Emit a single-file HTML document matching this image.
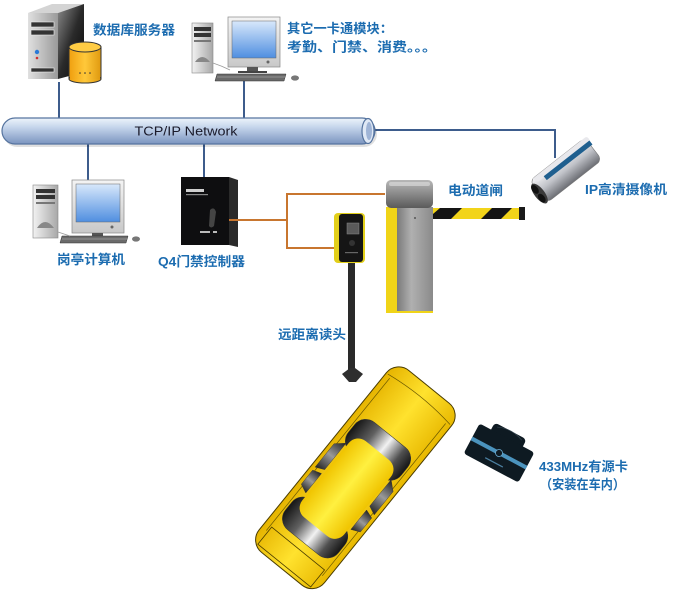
<!DOCTYPE html>
<html><head><meta charset="utf-8"><style>
html,body{margin:0;padding:0;background:#fff;}
svg{display:block;}
.lb{font-family:"Liberation Sans","Noto Sans CJK SC",sans-serif;font-weight:bold;font-size:13px;fill:#1c6cb0;}
.net{font-family:"Liberation Sans","DejaVu Sans",sans-serif;font-size:13px;fill:#1a1a2a;}
</style></head><body>
<svg width="692" height="592" viewBox="0 0 692 592" xmlns="http://www.w3.org/2000/svg">
<defs>
 <linearGradient id="tube" x1="0" y1="0" x2="0" y2="1">
  <stop offset="0" stop-color="#eef4fb"/><stop offset="0.35" stop-color="#c6d6ec"/><stop offset="1" stop-color="#7b94bf"/>
 </linearGradient>
 <linearGradient id="srvSide" x1="0" y1="0" x2="1" y2="1">
  <stop offset="0" stop-color="#8a8a8a"/><stop offset="0.5" stop-color="#2a2a2a"/><stop offset="1" stop-color="#050505"/>
 </linearGradient>
 <linearGradient id="srvFront" x1="0" y1="0" x2="1" y2="0">
  <stop offset="0" stop-color="#e0e0e0"/><stop offset="1" stop-color="#9a9a9a"/>
 </linearGradient>
 <linearGradient id="cyl" x1="0" y1="0" x2="1" y2="0">
  <stop offset="0" stop-color="#f0a010"/><stop offset="0.5" stop-color="#ffc83a"/><stop offset="1" stop-color="#e09a10"/>
 </linearGradient>
 <linearGradient id="screen" x1="0" y1="0" x2="0" y2="1">
  <stop offset="0" stop-color="#d8e8fb"/><stop offset="1" stop-color="#4f8ee0"/>
 </linearGradient>
 <linearGradient id="tower" x1="0" y1="0" x2="1" y2="0">
  <stop offset="0" stop-color="#f2f2f2"/><stop offset="1" stop-color="#a8a8a8"/>
 </linearGradient>
 <linearGradient id="bezel" x1="0" y1="0" x2="0" y2="1">
  <stop offset="0" stop-color="#f4f4f4"/><stop offset="1" stop-color="#c8c8c8"/>
 </linearGradient>
 <linearGradient id="cap" x1="0" y1="0" x2="0" y2="1">
  <stop offset="0" stop-color="#b8b8b8"/><stop offset="1" stop-color="#5a5a5a"/>
 </linearGradient>
 <linearGradient id="panel" x1="0" y1="0" x2="1" y2="0">
  <stop offset="0" stop-color="#7a7a7a"/><stop offset="0.4" stop-color="#b0b0b0"/><stop offset="1" stop-color="#8a8a8a"/>
 </linearGradient>
 <linearGradient id="cam" x1="0" y1="0" x2="0" y2="1">
  <stop offset="0" stop-color="#f6f6f8"/><stop offset="0.5" stop-color="#c0c2c8"/><stop offset="1" stop-color="#6c6e74"/>
 </linearGradient>
 <linearGradient id="carBody" x1="-42" y1="0" x2="42" y2="0" gradientUnits="userSpaceOnUse">
  <stop offset="0" stop-color="#e6b400"/><stop offset="0.5" stop-color="#ffe22e"/><stop offset="1" stop-color="#e8b800"/>
 </linearGradient>
 <linearGradient id="carRoof" x1="-27" y1="0" x2="27" y2="0" gradientUnits="userSpaceOnUse">
  <stop offset="0" stop-color="#f0c400"/><stop offset="0.5" stop-color="#fff040"/><stop offset="1" stop-color="#f0c400"/>
 </linearGradient>
 <linearGradient id="glass" x1="-34" y1="0" x2="34" y2="0" gradientUnits="userSpaceOnUse">
  <stop offset="0" stop-color="#151515"/><stop offset="0.3" stop-color="#606060"/><stop offset="0.55" stop-color="#f2f2f2"/><stop offset="0.8" stop-color="#505050"/><stop offset="1" stop-color="#151515"/>
 </linearGradient>
 <linearGradient id="sideGlass" x1="0" y1="0" x2="0" y2="1">
  <stop offset="0" stop-color="#222"/><stop offset="0.5" stop-color="#9a9a9a"/><stop offset="1" stop-color="#222"/>
 </linearGradient>
</defs>

<!-- network connector lines -->
<g stroke="#3d5c8c" stroke-width="2" fill="none">
 <line x1="59" y1="82" x2="59" y2="119"/>
 <line x1="244" y1="81" x2="244" y2="119"/>
 <line x1="88" y1="143" x2="88" y2="181"/>
 <line x1="204" y1="143" x2="204" y2="177"/>
 <polyline points="374,130 555,130 555,158"/>
</g>

<!-- tube -->
<rect x="4" y="121" width="373" height="26" rx="13" fill="#000" opacity="0.12"/>
<rect x="2" y="118" width="373" height="26" rx="13" fill="url(#tube)" stroke="#56749f" stroke-width="1.2"/>
<ellipse cx="368" cy="131" rx="6" ry="12.5" fill="#dfe8f5" stroke="#56749f" stroke-width="1.2"/>
<ellipse cx="369" cy="131" rx="3" ry="9" fill="#9fb4d6"/>
<text class="net" x="186" y="135.5" text-anchor="middle" textLength="103" lengthAdjust="spacingAndGlyphs">TCP/IP Network</text>

<!-- server -->
<polygon points="28,13 52,4 84,4 58,13" fill="#d4d4d4"/>
<polygon points="58,13 84,4 84,72 58,79" fill="url(#srvSide)"/>
<rect x="28" y="13" width="30" height="66" fill="url(#srvFront)"/>
<rect x="31" y="22" width="23" height="5" fill="#333" stroke="#eee" stroke-width="0.6"/>
<rect x="31" y="30" width="23" height="5" fill="#333" stroke="#eee" stroke-width="0.6"/>
<circle cx="37" cy="52" r="2.2" fill="#2a7ad8"/>
<circle cx="37" cy="58" r="1.3" fill="#d03030"/>
<rect x="31" y="68" width="23" height="4" fill="#333" stroke="#eee" stroke-width="0.6"/>
<!-- db cylinder -->
<rect x="69" y="47" width="32" height="32" fill="url(#cyl)" stroke="#333" stroke-width="1"/>
<ellipse cx="85" cy="79" rx="16" ry="4" fill="url(#cyl)" stroke="#333" stroke-width="1"/>
<rect x="70" y="70" width="30" height="9" fill="url(#cyl)"/>
<ellipse cx="85" cy="47" rx="16" ry="5" fill="#ffcc44" stroke="#333" stroke-width="1"/>
<g fill="#333"><circle cx="80" cy="73" r="0.8"/><circle cx="85" cy="73" r="0.8"/><circle cx="90" cy="73" r="0.8"/></g>
<text class="lb" x="93" y="34.5" textLength="82" lengthAdjust="spacingAndGlyphs">数据库服务器</text>

<!-- top computer -->
<rect x="192" y="23" width="21" height="50" fill="url(#tower)" stroke="#888" stroke-width="0.6"/>
<rect x="194" y="27" width="17" height="4" fill="#333"/>
<rect x="194" y="33" width="17" height="4" fill="#333"/>
<rect x="194" y="40" width="17" height="2" fill="#777"/>
<path d="M195,62 Q202,52 210,62" fill="#888"/>
<rect x="228" y="17" width="52" height="50" fill="url(#bezel)" stroke="#888" stroke-width="0.7"/>
<rect x="232" y="21" width="44" height="37" fill="url(#screen)" stroke="#666" stroke-width="0.5"/>
<circle cx="268" cy="62" r="1.5" fill="#666"/>
<rect x="247" y="67" width="11" height="4" fill="#555"/>
<rect x="238" y="71" width="29" height="2" fill="#444"/>
<polygon points="217,74 286,74 284,81 215,81" fill="#6a6a6a" stroke="#333" stroke-width="0.5"/>
<line x1="217" y1="77" x2="285" y2="77" stroke="#bbb" stroke-width="0.5"/>
<ellipse cx="295" cy="78" rx="4" ry="2.6" fill="#777"/>
<path d="M213,63 Q222,66 230,70" stroke="#999" fill="none" stroke-width="0.7"/>
<text class="lb" x="287" y="33" textLength="106" lengthAdjust="spacingAndGlyphs">其它一卡通模块：</text>
<text class="lb" x="287" y="51.5" textLength="150" lengthAdjust="spacingAndGlyphs">考勤、门禁、消费。。。</text>

<!-- bottom-left computer -->
<rect x="33" y="185" width="25" height="53" fill="url(#tower)" stroke="#888" stroke-width="0.6"/>
<rect x="36" y="189" width="19" height="4" fill="#333"/>
<rect x="36" y="195" width="19" height="4" fill="#333"/>
<rect x="36" y="202" width="19" height="2" fill="#777"/>
<path d="M37,228 Q45,216 54,228" fill="#888"/>
<rect x="72" y="180" width="52" height="53" fill="url(#bezel)" stroke="#888" stroke-width="0.7"/>
<rect x="76" y="184" width="44" height="38" fill="url(#screen)" stroke="#666" stroke-width="0.5"/>
<circle cx="112" cy="227" r="1.5" fill="#666"/>
<rect x="92" y="233" width="11" height="3" fill="#555"/>
<polygon points="62,236 128,236 126,243 60,243" fill="#6a6a6a" stroke="#333" stroke-width="0.5"/>
<line x1="62" y1="239" x2="127" y2="239" stroke="#bbb" stroke-width="0.5"/>
<ellipse cx="136" cy="239" rx="4" ry="2.6" fill="#777"/>
<path d="M58,232 Q64,234 70,236" stroke="#999" fill="none" stroke-width="0.7"/>
<text class="lb" x="57" y="264" textLength="68" lengthAdjust="spacingAndGlyphs">岗亭计算机</text>

<!-- controller -->
<polygon points="229,177 238,180 238,247 229,245" fill="#2a2a2a"/>
<rect x="181" y="177" width="48" height="68" fill="#0e0e10"/>
<rect x="186" y="189" width="18" height="3" fill="#cfcfcf"/>
<rect x="186" y="194" width="22" height="1.2" fill="#888"/>
<path d="M210,210 q4,-4 6,2 l-2,14 q-3,3 -5,0 z" fill="#444"/>
<rect x="200" y="231" width="10" height="2" fill="#bbb"/>
<rect x="213" y="231" width="4" height="2" fill="#bbb"/>
<text class="lb" x="158" y="266" textLength="87" lengthAdjust="spacingAndGlyphs">Q4门禁控制器</text>

<!-- orange wiring -->
<g stroke="#c8762f" stroke-width="2" fill="none">
 <line x1="229" y1="220" x2="287" y2="220"/>
 <line x1="287" y1="193" x2="287" y2="249"/>
 <line x1="287" y1="194" x2="385" y2="194"/>
 <line x1="287" y1="248" x2="335" y2="248"/>
</g>

<!-- reader -->
<rect x="348" y="262" width="7" height="110" fill="#2a2a2a"/>
<polygon points="342,374 350,368 355,368 363,374 356,382 349,382" fill="#2e2e2e"/>
<rect x="334" y="213" width="31" height="50" rx="4" fill="#e2cf1a"/>
<rect x="339" y="214" width="24" height="48" rx="3" fill="#151515"/>
<rect x="347" y="223" width="12" height="11" fill="#5a5a5a" stroke="#888" stroke-width="0.5"/>
<circle cx="352" cy="243" r="3" fill="#333"/>
<rect x="345" y="252" width="13" height="1.2" fill="#666"/>

<!-- barrier -->
<rect x="386" y="207" width="47" height="106" fill="#f0d418"/>
<rect x="397" y="207" width="36" height="104" fill="url(#panel)"/>
<circle cx="415" cy="218" r="1" fill="#555"/>
<rect x="386" y="180" width="47" height="28" rx="5" fill="url(#cap)"/>
<rect x="389" y="182" width="41" height="4" rx="2" fill="#d8d8d8" opacity="0.7"/>
<rect x="433" y="208" width="88" height="11" fill="#f2d41a"/>
<polygon points="433,214 440,208 462,208 451,219 433,219" fill="#151515"/>
<polygon points="481,219 492,208 512,208 501,219" fill="#151515"/>
<rect x="519" y="207" width="6" height="13" fill="#1a1a1a"/>
<text class="lb" x="448" y="195" textLength="55" lengthAdjust="spacingAndGlyphs">电动道闸</text>

<!-- camera -->
<g transform="translate(565,171) rotate(-38)">
 <rect x="-34" y="-14" width="70" height="28" rx="6" fill="url(#cam)" stroke="#777" stroke-width="0.6"/>
 <path d="M-30,-14 L36,-14 Q40,-14 38,-8 L-28,-8 Z" fill="#e8e8ec"/>
 <rect x="-20" y="-9" width="58" height="5" fill="#1f5f8f"/>
 <ellipse cx="-34" cy="2" rx="5" ry="12" fill="#3a3a3a"/>
 <ellipse cx="-35" cy="-4" rx="3" ry="5" fill="#111"/>
 <ellipse cx="-35" cy="7" rx="3" ry="5" fill="#111"/>
</g>
<text class="lb" x="585" y="194" textLength="82" lengthAdjust="spacingAndGlyphs">IP高清摄像机</text>

<text class="lb" x="278" y="339" textLength="68" lengthAdjust="spacingAndGlyphs">远距离读头</text>

<!-- car -->
<g transform="translate(356,477) rotate(39)">
 <rect x="-42" y="-116" width="84" height="234" rx="16" fill="url(#carBody)" stroke="#4a3c00" stroke-width="1"/>
 <line x1="-36" y1="-98" x2="-36" y2="98" stroke="#6a5800" stroke-width="0.7"/>
 <line x1="36" y1="-98" x2="36" y2="98" stroke="#6a5800" stroke-width="0.7"/>
 <path d="M-40,-100 Q0,-106 40,-100" fill="none" stroke="#6a5800" stroke-width="0.7"/>
 <rect x="-34" y="-54" width="68" height="38" rx="14" fill="url(#glass)" stroke="#333" stroke-width="0.5"/>
 <rect x="-34" y="46" width="68" height="38" rx="14" fill="url(#glass)" stroke="#333" stroke-width="0.5"/>
 <polygon points="-38,-12 -29,-20 -29,14 -38,18" fill="url(#sideGlass)" stroke="#333" stroke-width="0.4"/>
 <polygon points="-38,22 -29,19 -29,44 -38,40" fill="url(#sideGlass)" stroke="#333" stroke-width="0.4"/>
 <polygon points="38,-12 29,-20 29,14 38,18" fill="url(#sideGlass)" stroke="#333" stroke-width="0.4"/>
 <polygon points="38,22 29,19 29,44 38,40" fill="url(#sideGlass)" stroke="#333" stroke-width="0.4"/>
 <rect x="-27" y="-34" width="54" height="98" rx="12" fill="url(#carRoof)"/>
 <rect x="-34" y="92" width="68" height="22" fill="none" stroke="#4a3c00" stroke-width="0.8"/>
</g>

<!-- active card -->
<g transform="translate(499,453) rotate(28)">
 <rect x="-18" y="-25" width="36" height="12" rx="4" fill="#0e1a22"/>
 <rect x="-31" y="-17" width="62" height="34" rx="3" fill="#0e1a22"/>
 <path d="M-14,-22 Q0,-28 14,-22" fill="none" stroke="#3a4a55" stroke-width="0.6"/>
 <rect x="-31" y="-2" width="62" height="4" fill="#4b93bd"/>
 <circle cx="0" cy="0" r="3.5" fill="#0e1a22" stroke="#6aaad0" stroke-width="0.8"/>
 <rect x="-10" y="10" width="20" height="1.2" fill="#4b7fa0"/>
</g>
<text class="lb" x="539" y="471" textLength="89" lengthAdjust="spacingAndGlyphs">433MHz有源卡</text>
<text class="lb" x="540" y="489" textLength="85" lengthAdjust="spacingAndGlyphs">（安装在车内）</text>
</svg>
</body></html>
